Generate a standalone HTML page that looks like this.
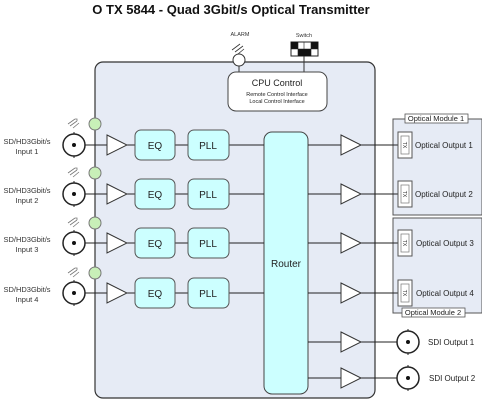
<!DOCTYPE html>
<html><head><style>body{margin:0;background:#fff}svg{display:block}text{font-family:"Liberation Sans",sans-serif}</style></head><body>
<svg width="482" height="401" viewBox="0 0 482 401" xmlns="http://www.w3.org/2000/svg">
<defs>
<g id="tri"><path d="M0,-10 L20,0 L0,10 Z" fill="#fff" stroke="#333" stroke-width="1"/></g>
<g id="bnc"><circle r="11" fill="#fff" stroke="#222" stroke-width="1.5"/><circle r="2" fill="#111"/><line x1="0" y1="-13" x2="0" y2="-11" stroke="#222"/><line x1="0" y1="11" x2="0" y2="13" stroke="#222"/></g>
<g id="led"><path d="M-20,-4 l7,-5 M-18,-2 l7,-5 M-15,0 l6,-5 M-13,-9 l2,-0 l0,2" stroke="#777" stroke-width="0.8" fill="none"/></g>
<g id="opt"><rect x="0" y="-13" width="14" height="26" fill="#fff" stroke="#555"/><rect x="3" y="-9" width="8" height="18" fill="#fff" stroke="#777" stroke-width="0.7"/><text x="7" y="2" font-size="5" text-anchor="middle" fill="#333" transform="rotate(90 7 0)">TX</text></g>
</defs>
<text x="231" y="14" font-size="13" font-weight="bold" text-anchor="middle" fill="#111">O TX 5844 - Quad 3Gbit/s Optical  Transmitter</text>
<rect x="393" y="119" width="89" height="96" fill="#e6ebf5" stroke="#555"/>
<rect x="405" y="114" width="63" height="9" fill="#fff" stroke="#555" stroke-width="0.8"/>
<text x="436" y="121" font-size="7.5" text-anchor="middle" fill="#222">Optical Module 1</text>
<rect x="393" y="218" width="89" height="95" fill="#e6ebf5" stroke="#555"/>
<rect x="402" y="308" width="63" height="9" fill="#fff" stroke="#555" stroke-width="0.8"/>
<text x="433" y="315" font-size="7.5" text-anchor="middle" fill="#222">Optical Module 2</text>
<rect x="95" y="62" width="280" height="336" rx="8" fill="#e6ebf5" stroke="#333" stroke-width="1.2"/>
<text x="240" y="36" font-size="5.5" text-anchor="middle" fill="#333">ALARM</text>
<path d="M232,50 l8,-6 M235,52 l8,-6 M238,54 l6,-5" stroke="#333" stroke-width="0.8"/>
<line x1="239" y1="66" x2="239" y2="72" stroke="#333"/>
<circle cx="239" cy="60" r="6" fill="#fff" stroke="#333"/>
<text x="304" y="37" font-size="5.5" text-anchor="middle" fill="#333">Switch</text>
<line x1="304" y1="56" x2="304" y2="72" stroke="#333"/>
<rect x="291" y="42" width="27" height="14" fill="#fff" stroke="#222"/>
<rect x="291" y="42" width="7" height="7" fill="#111"/><rect x="311" y="42" width="7" height="7" fill="#111"/>
<rect x="298" y="49" width="13" height="7" fill="#111"/>
<path d="M298,42 v14 M304,42 v7 M311,42 v14 M291,49 h27" stroke="#222" stroke-width="0.6"/>
<rect x="228" y="72" width="99" height="39" rx="8" fill="#fff" stroke="#444"/>
<text x="277" y="86" font-size="9" text-anchor="middle" fill="#222">CPU Control</text>
<text x="277" y="96" font-size="5.5" text-anchor="middle" fill="#222">Remote Control Interface</text>
<text x="277" y="103" font-size="5.5" text-anchor="middle" fill="#222">Local Control Interface</text>
<rect x="264" y="132" width="44" height="262" rx="8" fill="#ccffff" stroke="#444"/>
<text x="286" y="267" font-size="10" text-anchor="middle" fill="#222">Router</text>
<g stroke="#222" stroke-width="1">
<line x1="85" y1="145" x2="264" y2="145"/><line x1="85" y1="194" x2="264" y2="194"/><line x1="85" y1="243" x2="264" y2="243"/><line x1="85" y1="293" x2="264" y2="293"/>
<line x1="308" y1="145" x2="398" y2="145"/><line x1="308" y1="194" x2="398" y2="194"/><line x1="308" y1="243" x2="398" y2="243"/><line x1="308" y1="293" x2="398" y2="293"/>
<line x1="308" y1="342" x2="397" y2="342"/><line x1="308" y1="378" x2="397" y2="378"/>
</g>
<g fill="#ccffff" stroke="#555">
<rect x="135" y="130" width="40" height="30" rx="6"/><rect x="188" y="130" width="41" height="30" rx="6"/>
<rect x="135" y="179" width="40" height="30" rx="6"/><rect x="188" y="179" width="41" height="30" rx="6"/>
<rect x="135" y="228" width="40" height="30" rx="6"/><rect x="188" y="228" width="41" height="30" rx="6"/>
<rect x="135" y="278" width="40" height="30" rx="6"/><rect x="188" y="278" width="41" height="30" rx="6"/>
</g>
<g font-size="10" text-anchor="middle" fill="#222">
<text x="155" y="149">EQ</text><text x="208" y="149">PLL</text>
<text x="155" y="198">EQ</text><text x="208" y="198">PLL</text>
<text x="155" y="247">EQ</text><text x="208" y="247">PLL</text>
<text x="155" y="297">EQ</text><text x="208" y="297">PLL</text>
</g>
<use href="#tri" x="107" y="145"/><use href="#tri" x="107" y="194"/><use href="#tri" x="107" y="243"/><use href="#tri" x="107" y="293"/>
<use href="#tri" x="341" y="145"/><use href="#tri" x="341" y="194"/><use href="#tri" x="341" y="243"/><use href="#tri" x="341" y="293"/>
<use href="#tri" x="341" y="342"/><use href="#tri" x="341" y="378"/>
<use href="#bnc" x="74" y="145"/><use href="#bnc" x="74" y="194"/><use href="#bnc" x="74" y="243"/><use href="#bnc" x="74" y="293"/>
<use href="#bnc" x="408" y="342"/><use href="#bnc" x="408" y="378"/>
<g fill="#c8f0b8" stroke="#777">
<circle cx="95" cy="124" r="6"/><circle cx="95" cy="173" r="6"/><circle cx="95" cy="223" r="6"/><circle cx="95" cy="273" r="6"/>
</g>
<use href="#led" x="88" y="128"/><use href="#led" x="88" y="177"/><use href="#led" x="88" y="227"/><use href="#led" x="88" y="277"/>
<g font-size="7.5" text-anchor="middle" fill="#333">
<text x="27" y="144">SD/HD3Gbit/s</text><text x="27" y="154">Input 1</text>
<text x="27" y="193">SD/HD3Gbit/s</text><text x="27" y="203">Input 2</text>
<text x="27" y="242">SD/HD3Gbit/s</text><text x="27" y="252">Input 3</text>
<text x="27" y="292">SD/HD3Gbit/s</text><text x="27" y="302">Input 4</text>
</g>
<use href="#opt" x="398" y="145"/><use href="#opt" x="398" y="194"/><use href="#opt" x="398" y="243"/><use href="#opt" x="398" y="293"/>
<g font-size="8" fill="#222">
<text x="415" y="148">Optical Output 1</text><text x="415" y="197">Optical Output 2</text>
<text x="416" y="246">Optical Output 3</text><text x="416" y="296">Optical Output 4</text>
<text x="428" y="345">SDI Output 1</text><text x="429" y="381">SDI Output 2</text>
</g>
</svg>
</body></html>
